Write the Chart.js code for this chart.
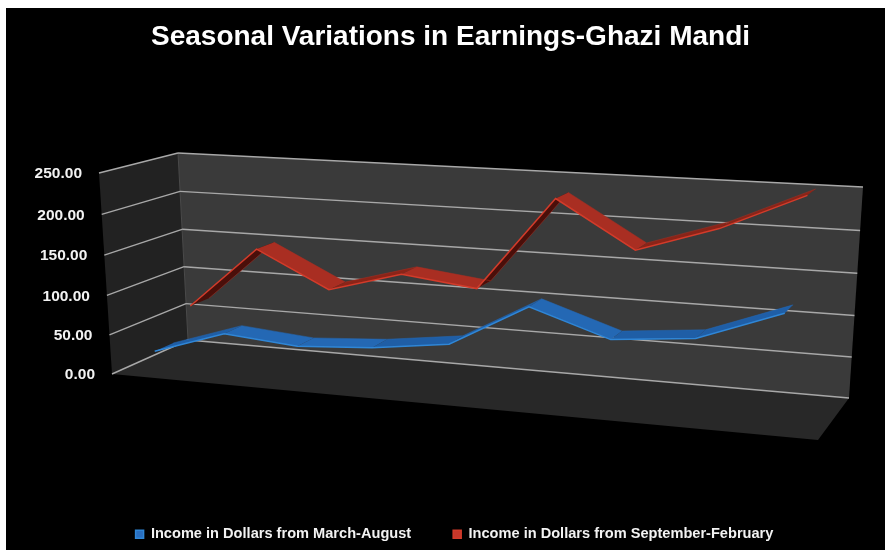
<!DOCTYPE html>
<html>
<head>
<meta charset="utf-8">
<title>Seasonal Variations in Earnings-Ghazi Mandi</title>
<script src="https://cdn.jsdelivr.net/npm/chart.js@4"></script>
<style>
  html, body { margin: 0; background: #fff; }
  canvas { display: block; }
</style>
</head>
<body>
<canvas id="myChart" width="885" height="550"></canvas>
<script>
const chartTitle = 'Seasonal Variations in Earnings-Ghazi Mandi';
const categories = ['1', '2', '3', '4', '5', '6', '7', '8', '9'];
const seriesNames = ['Income in Dollars from March-August', 'Income in Dollars from September-February'];
const marchAugust = [28, 58, 50, 56, 68, 120, 89, 98, 134];
const septFebruary = [66, 146, 101, 127, 116, 230, 175, 206, 249];

// box corners on screen, w=0 is the front of the box, w=1 the back wall
const front = { tl: [99, 173], tr: [833, 213], br: [818, 440], bl: [112, 374] };
const back = { tl: [178, 153], tr: [863, 187], br: [849, 398], bl: [188, 340] };

function lerp(a, b, t) {
  return [a[0] + (b[0] - a[0]) * t, a[1] + (b[1] - a[1]) * t];
}

// unit square -> quad, plain homography
function project(u, v, w) {
  const p0 = lerp(front.tl, back.tl, w);
  const p1 = lerp(front.tr, back.tr, w);
  const p2 = lerp(front.br, back.br, w);
  const p3 = lerp(front.bl, back.bl, w);
  const dx1 = p1[0] - p2[0], dx2 = p3[0] - p2[0], sx = p0[0] - p1[0] + p2[0] - p3[0];
  const dy1 = p1[1] - p2[1], dy2 = p3[1] - p2[1], sy = p0[1] - p1[1] + p2[1] - p3[1];
  const den = dx1 * dy2 - dx2 * dy1;
  const g = (sx * dy2 - dx2 * sy) / den;
  const h = (dx1 * sy - sx * dy1) / den;
  const a = p1[0] - p0[0] + g * p1[0], b = p3[0] - p0[0] + h * p3[0];
  const d = p1[1] - p0[1] + g * p1[1], e = p3[1] - p0[1] + h * p3[1];
  const t = 1 - v; // v counts from the floor up
  const q = g * u + h * t + 1;
  return [(a * u + b * t + p0[0]) / q, (d * u + e * t + p0[1]) / q];
}

function poly(ctx, pts, fill) {
  ctx.beginPath();
  pts.forEach((p, i) => i ? ctx.lineTo(p[0], p[1]) : ctx.moveTo(p[0], p[1]));
  ctx.closePath();
  ctx.fillStyle = fill;
  ctx.fill();
}

function seg(ctx, a, b, color, width) {
  ctx.beginPath();
  ctx.moveTo(a[0], a[1]);
  ctx.lineTo(b[0], b[1]);
  ctx.strokeStyle = color;
  ctx.lineWidth = width;
  ctx.stroke();
}

const box3d = {
  id: 'box3d',
  // move the points the scales just placed into the perspective box
  afterDatasetsUpdate(chart) {
    const area = chart.chartArea;
    chart.data.datasets.forEach((ds, i) => {
      chart.getDatasetMeta(i).data.forEach(el => {
        const u = (el.x - area.left) / area.width;
        const v = (area.bottom - el.y) / area.height;
        const p = project(u, v, ds.depth);
        el.x = p[0];
        el.y = p[1];
      });
    });
  },
  afterLayout(chart) {
    chart.legend.top = 550 - 65;
    chart.legend.left += 4;
    chart.legend.right += 4;
  },
  beforeDraw(chart) {
    // black slide, leaves a white strip top and left
    chart.ctx.save();
    chart.ctx.fillStyle = '#000';
    chart.ctx.fillRect(6, 8, 879, 542);
    chart.ctx.restore();
  },
  beforeDatasetsDraw(chart) {
    const ctx = chart.ctx;
    const area = chart.chartArea;
    const yScale = chart.scales.y;
    ctx.save();
    poly(ctx, [project(0, 0, 0), project(0, 1, 0), project(0, 1, 1), project(0, 0, 1)], '#222222');
    poly(ctx, [project(0, 0, 0), project(1, 0, 0), project(1, 0, 1), project(0, 0, 1)], '#282828');
    poly(ctx, [project(0, 0, 1), project(0, 1, 1), project(1, 1, 1), project(1, 0, 1)], '#3a3a3a');
    seg(ctx, project(0, 0, 1), project(0, 1, 1), '#4a4a4a', 1);
    yScale.ticks.forEach(tick => {
      const v = (area.bottom - yScale.getPixelForValue(tick.value)) / area.height;
      seg(ctx, project(0, v, 0), project(0, v, 1), '#a8a8a8', 1.4);
      seg(ctx, project(0, v, 1), project(1, v, 1), '#a8a8a8', 1.4);
      const p = project(0, v, 0);
      ctx.fillStyle = '#f2f2f2';
      ctx.font = 'bold 15.5px "Liberation Sans"';
      ctx.textAlign = 'right';
      ctx.textBaseline = 'middle';
      ctx.fillText(tick.label, p[0] - 17, p[1] + 1);
    });
    // ribbons, back series first
    [[2, 3, ['#a92e22', '#8a2418', '#4a0f0a']], [0, 1, ['#2468b4', '#1f5ea6', '#123f78']]].forEach(s => {
      const f = chart.getDatasetMeta(s[0]).data;
      const b = chart.getDatasetMeta(s[1]).data;
      for (let i = 0; i < f.length - 1; i++) {
        const dirX = f[i + 1].x - f[i].x, dirY = f[i + 1].y - f[i].y;
        const cross = dirX * (b[i].y - f[i].y) - dirY * (b[i].x - f[i].x);
        const shade = cross > 0 ? s[2][2] : (dirY < 0 ? s[2][1] : s[2][0]);
        poly(ctx, [[f[i].x, f[i].y], [f[i + 1].x, f[i + 1].y], [b[i + 1].x, b[i + 1].y], [b[i].x, b[i].y]], shade);
      }
    });
    ctx.restore();
  }
};

const ctx = document.getElementById('myChart');

new Chart(ctx, {
  type: 'line',
  data: {
    labels: categories,
    datasets: [
      { label: seriesNames[0], data: marchAugust, depth: 0.125, borderColor: '#2f86d6', backgroundColor: '#2a6fc0', borderWidth: 1.5, pointRadius: 0, clip: false },
      { label: 'back0', data: marchAugust, depth: 0.375, borderColor: '#2468b4', borderWidth: 0.5, pointRadius: 0, clip: false },
      { label: seriesNames[1], data: septFebruary, depth: 0.625, borderColor: '#d23b2a', backgroundColor: '#c8372a', borderWidth: 1.5, pointRadius: 0, clip: false },
      { label: 'back1', data: septFebruary, depth: 0.875, borderColor: '#a92e22', borderWidth: 0.5, pointRadius: 0, clip: false }
    ]
  },
  options: {
    responsive: false,
    animation: false,
    events: [],
    layout: { padding: { left: 16 } },
    scales: {
      x: { display: false, offset: true },
      y: {
        display: false,
        min: 0,
        max: 250,
        ticks: { stepSize: 50, callback: v => v.toFixed(2) }
      }
    },
    plugins: {
      title: {
        display: true,
        text: chartTitle,
        color: '#ffffff',
        font: { family: '"Liberation Sans"', size: 28, weight: 'bold' },
        padding: { top: 20, bottom: 10 }
      },
      tooltip: { enabled: false },
      legend: {
        position: 'bottom',
        labels: {
          color: '#f2f2f2',
          font: { family: '"Liberation Sans"', size: 14.6, weight: 'bold' },
          boxWidth: 8,
          boxHeight: 8,
          padding: 42,
          filter: item => !item.text.startsWith('back')
        }
      }
    }
  },
  plugins: [box3d]
});
</script>
</body>
</html>
